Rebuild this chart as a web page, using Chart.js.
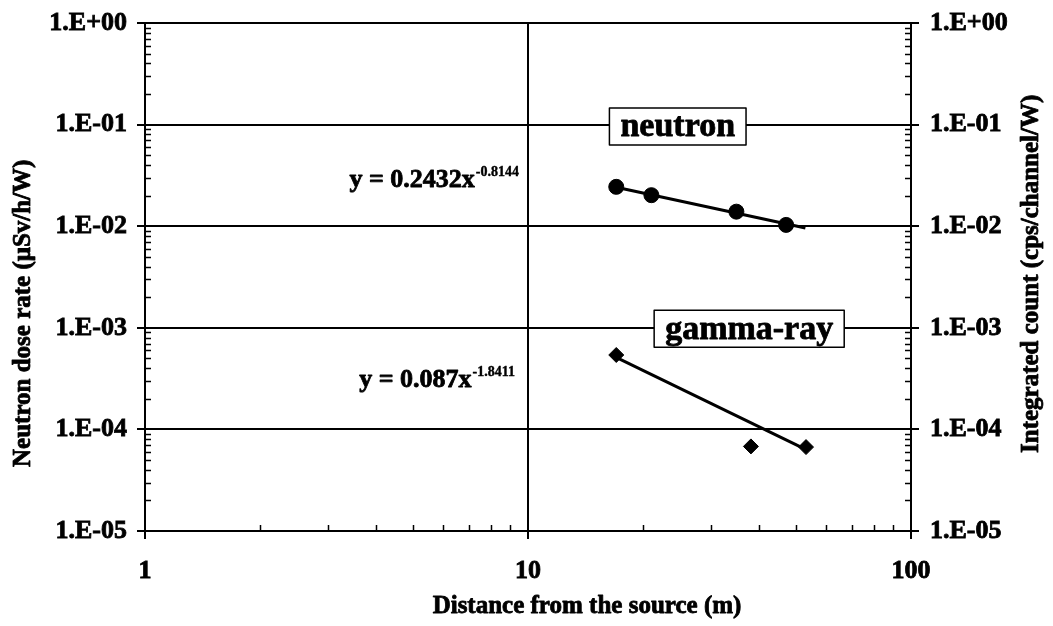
<!DOCTYPE html>
<html>
<head>
<meta charset="utf-8">
<script src="https://cdn.jsdelivr.net/npm/chart.js@4.4.1/dist/chart.umd.min.js"></script>
<style>
  html, body { margin: 0; padding: 0; background: #fff; }
  #wrap { width: 1053px; height: 626px; position: relative; }
</style>
</head>
<body>
<div id="wrap"><canvas id="c" width="1053" height="626"></canvas></div>
<script>
// Measured neutron dose rate (µSv/h/W) vs distance (m)
const neutronDistance = [17.0, 21.0, 35.0, 47.2];
const neutronDose     = [0.0244, 0.0202, 0.0139, 0.0103];
// Integrated gamma-ray count (cps/channel/W) vs distance (m)
const gammaDistance = [17.0, 38.2, 53.2];
const gammaCount    = [5.4e-4, 6.8e-5, 6.7e-5];
// Power-law trend lines (end points)
const neutronFitX = [17.0, 53.0];
const neutronFitY = [0.0242, 0.0096];
const gammaFitX   = [17.2, 53.4];
const gammaFitY   = [5.0e-4, 6.3e-5];
// Axis ticks
const xTickValues = [1, 10, 100];
const xTickLabels = ['1', '10', '100'];
const yTickValues = [1e-5, 1e-4, 1e-3, 1e-2, 1e-1, 1];
const yTickLabels = ['1.E-05', '1.E-04', '1.E-03', '1.E-02', '1.E-01', '1.E+00'];

const SERIF = '"Liberation Serif", "Times New Roman", serif';
const tickFont = { family: SERIF, size: 26, weight: 'bold' };

const toPoints = (xs, ys) => xs.map((x, i) => ({ x: x, y: ys[i] }));

const labelFor = (values, labels) => (v) => {
  const i = values.findIndex(t => Math.abs(Math.log10(t) - Math.log10(v)) < 1e-6);
  return i >= 0 ? labels[i] : '';
};

// Heavy bold text: fill plus a thin outline of the same colour
function heavyText(ctx, text, x, y, stroke) {
  ctx.lineWidth = stroke;
  ctx.strokeStyle = '#000';
  ctx.lineJoin = 'round';
  ctx.strokeText(text, x, y);
  ctx.fillText(text, x, y);
}

// Inward minor ticks, axis titles, series labels and trend-line equations
const decorations = {
  id: 'decorations',
  afterDraw(chart) {
    const ctx = chart.ctx;
    const ca = chart.chartArea;
    const sx = chart.scales.x, sy = chart.scales.y;
    ctx.save();
    ctx.strokeStyle = '#000';
    ctx.lineWidth = 1.5;
    ctx.beginPath();
    for (let d = 1; d < 100; d *= 10) {
      for (let m = 2; m <= 9; m++) {
        const px = Math.round(sx.getPixelForValue(m * d)) + 0.5;
        ctx.moveTo(px, ca.bottom);
        ctx.lineTo(px, ca.bottom - 6);
      }
    }
    for (let e = -5; e < 0; e++) {
      const d = Math.pow(10, e);
      for (let m = 2; m <= 9; m++) {
        const py = Math.round(sy.getPixelForValue(m * d)) + 0.5;
        ctx.moveTo(ca.left, py);
        ctx.lineTo(ca.left + 6, py);
        ctx.moveTo(ca.right, py);
        ctx.lineTo(ca.right - 6, py);
      }
    }
    ctx.stroke();

    ctx.fillStyle = '#000';
    // axis titles
    ctx.font = 'bold 25px ' + SERIF;
    ctx.textBaseline = 'alphabetic';
    ctx.textAlign = 'center';
    heavyText(ctx, 'Distance from the source (m)', 587, 613, 0.8);
    ctx.textAlign = 'left';
    ctx.save();
    ctx.translate(30, 467);
    ctx.rotate(-Math.PI / 2);
    heavyText(ctx, 'Neutron dose rate (\u03BCSv/h/W)', 0, 0, 0.8);
    ctx.restore();
    ctx.save();
    ctx.translate(1038, 453);
    ctx.rotate(-Math.PI / 2);
    heavyText(ctx, 'Integrated count (cps/channel/W)', 0, 0, 0.8);
    ctx.restore();

    // boxed series labels
    const boxLabel = (text, cx, cy) => {
      ctx.font = 'bold 34px ' + SERIF;
      const w = ctx.measureText(text).width + 22;
      const h = 37;
      ctx.fillStyle = '#fff';
      ctx.fillRect(cx - w / 2, cy - h / 2, w, h);
      ctx.strokeStyle = '#000';
      ctx.lineWidth = 1.5;
      ctx.strokeRect(cx - w / 2, cy - h / 2, w, h);
      ctx.fillStyle = '#000';
      ctx.textAlign = 'center';
      ctx.textBaseline = 'middle';
      heavyText(ctx, text, cx, cy + 1, 0.8);
    };
    boxLabel('neutron', sx.getPixelForValue(24.6), sy.getPixelForValue(0.1) + 2);
    boxLabel('gamma-ray', sx.getPixelForValue(37.8), sy.getPixelForValue(1e-3) + 1);

    // equations, right-aligned
    const equation = (base, power, right, baseline, size, supSize) => {
      ctx.textAlign = 'left';
      ctx.textBaseline = 'alphabetic';
      ctx.font = 'bold ' + supSize + 'px ' + SERIF;
      const wp = ctx.measureText(power).width;
      ctx.font = 'bold ' + size + 'px ' + SERIF;
      const wb = ctx.measureText(base).width;
      const left = right - wp - wb;
      heavyText(ctx, base, left, baseline, 0.8);
      ctx.font = 'bold ' + supSize + 'px ' + SERIF;
      heavyText(ctx, power, left + wb + 1, baseline - 11, 0.4);
    };
    equation('y = 0.2432x', '-0.8144', 518, 187, 26, 14);
    equation('y = 0.087x', '-1.8411', 514, 387, 26, 14);
    ctx.restore();
  }
};

// vertical axes: fixed width, no extra room reserved for the end labels
const fitVertical = (width) => (s) => { s.width = width; s.paddingTop = 0; s.paddingBottom = 0; };

new Chart(document.getElementById('c'), {
  type: 'scatter',
  data: {
    datasets: [
      {
        label: 'neutron fit',
        data: toPoints(neutronFitX, neutronFitY),
        showLine: true, borderColor: '#000', borderWidth: 3,
        pointRadius: 0, yAxisID: 'y'
      },
      {
        label: 'gamma-ray fit',
        data: toPoints(gammaFitX, gammaFitY),
        showLine: true, borderColor: '#000', borderWidth: 3,
        pointRadius: 0, yAxisID: 'y'
      },
      {
        label: 'neutron',
        data: toPoints(neutronDistance, neutronDose),
        showLine: false, pointStyle: 'circle', pointRadius: 7.5,
        backgroundColor: '#000', borderColor: '#000', borderWidth: 1, yAxisID: 'y'
      },
      {
        label: 'gamma-ray',
        data: toPoints(gammaDistance, gammaCount),
        showLine: false, pointStyle: 'rectRot', pointRadius: 7.5,
        backgroundColor: '#000', borderColor: '#000', borderWidth: 1, yAxisID: 'y'
      }
    ]
  },
  options: {
    responsive: false,
    devicePixelRatio: 1,
    animation: false,
    layout: { padding: { top: 23, left: 0, right: 0, bottom: 0 } },
    plugins: { legend: { display: false }, tooltip: { enabled: false } },
    scales: {
      x: {
        type: 'logarithmic', position: 'bottom', min: 1, max: 100,
        afterBuildTicks: s => { s.ticks = xTickValues.map(v => ({ value: v })); },
        afterFit: s => { s.height = 95; s.paddingLeft = 0; s.paddingRight = 0; },
        grid: { color: '#000', lineWidth: 2, tickLength: 8, drawTicks: true },
        border: { display: true, color: '#000', width: 2 },
        ticks: { autoSkip: false, maxRotation: 0, color: '#000', font: tickFont, padding: 17,
                 textStrokeColor: '#000', textStrokeWidth: 0.8,
                 callback: labelFor(xTickValues, xTickLabels) },
        title: { display: false }
      },
      y: {
        type: 'logarithmic', position: 'left', min: 1e-5, max: 1,
        afterBuildTicks: s => { s.ticks = yTickValues.map(v => ({ value: v })); },
        afterFit: fitVertical(145),
        grid: { color: '#000', lineWidth: 2, tickLength: 8, drawTicks: true },
        border: { display: true, color: '#000', width: 2 },
        ticks: { autoSkip: false, color: '#000', font: tickFont, padding: 10,
                 textStrokeColor: '#000', textStrokeWidth: 0.8,
                 callback: labelFor(yTickValues, yTickLabels) },
        title: { display: false }
      },
      y2: {
        type: 'logarithmic', position: 'right', min: 1e-5, max: 1,
        afterBuildTicks: s => { s.ticks = yTickValues.map(v => ({ value: v })); },
        afterFit: fitVertical(142),
        grid: { color: '#000', lineWidth: 2, tickLength: 8, drawTicks: true, drawOnChartArea: false },
        border: { display: true, color: '#000', width: 2 },
        ticks: { autoSkip: false, color: '#000', font: tickFont, padding: 11,
                 textStrokeColor: '#000', textStrokeWidth: 0.8,
                 callback: labelFor(yTickValues, yTickLabels) },
        title: { display: false }
      }
    }
  },
  plugins: [decorations]
});
</script>
</body>
</html>
